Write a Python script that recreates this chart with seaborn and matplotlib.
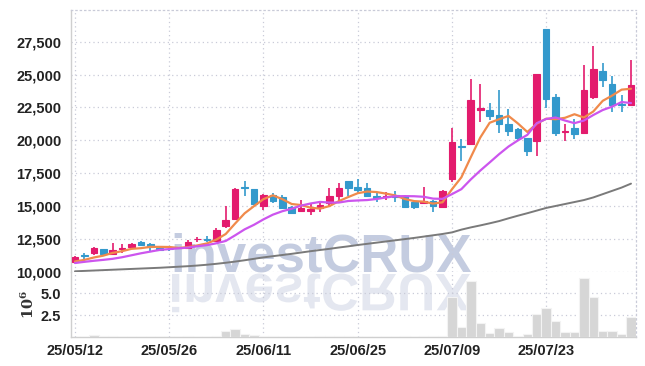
import matplotlib
matplotlib.use("Agg")
import matplotlib.pyplot as plt
import seaborn as sns
import numpy as np
import pandas as pd
from matplotlib.ticker import FuncFormatter
from matplotlib.textpath import TextPath
from matplotlib.patches import PathPatch
from matplotlib.font_manager import FontProperties
from matplotlib.transforms import Affine2D

# ---------------- data ----------------
dates = ["25/05/12", "25/05/13", "25/05/14", "25/05/15", "25/05/16", "25/05/19", "25/05/20", "25/05/21", "25/05/22", "25/05/23",
         "25/05/26", "25/05/27", "25/05/28", "25/05/29", "25/05/30", "25/06/02", "25/06/04", "25/06/05", "25/06/09", "25/06/10",
         "25/06/11", "25/06/12", "25/06/13", "25/06/16", "25/06/17", "25/06/18", "25/06/19", "25/06/20", "25/06/23", "25/06/24",
         "25/06/25", "25/06/26", "25/06/27", "25/06/30", "25/07/01", "25/07/02", "25/07/03", "25/07/04", "25/07/07", "25/07/08",
         "25/07/09", "25/07/10", "25/07/11", "25/07/14", "25/07/15", "25/07/16", "25/07/17", "25/07/18", "25/07/21", "25/07/22",
         "25/07/23", "25/07/24", "25/07/25", "25/07/28", "25/07/29", "25/07/30", "25/07/31", "25/08/01", "25/08/04", "25/08/05"]

opens = [10750, 11250, 11400, 11730, 11350, 11760, 11900, 12230, 12110, 11780,
         11760, 11800, 11800, 12450, 12470, 12360, 13450, 14020, 16420, 16300,
         15030, 15840, 15660, 14950, 14650, 14650, 14850, 15230, 15740, 16880,
         16420, 16350, 15790, 15670, 15840, 15790, 15280, 15240, 15410, 14900,
         17060, 19600, 19730, 22270, 22340, 21890, 21200, 20820, 20160, 19930,
         28440, 23280, 20610, 20950, 20570, 23280, 25240, 24250, 22780, 22650]
highs = [11200, 11400, 11900, 11750, 12190, 12110, 12190, 12360, 12150, 11900,
         11860, 11900, 12420, 12660, 12690, 13330, 15030, 16350, 16880, 16320,
         15900, 16000, 15800, 15000, 15460, 15160, 15350, 16380, 16730, 16900,
         17060, 16730, 16040, 16050, 16170, 15850, 15300, 16420, 15450, 16250,
         20950, 20110, 24680, 24250, 22860, 23790, 22400, 20900, 20200, 25010,
         28500, 23540, 21250, 21640, 25700, 27140, 25870, 24900, 23410, 26080]
lows = [10720, 11000, 11270, 11330, 11300, 11420, 11730, 11930, 11600, 11600,
        11600, 11700, 11750, 12280, 12230, 12360, 13330, 14020, 15790, 15100,
        14700, 15240, 14850, 14400, 14520, 14320, 14520, 15030, 15410, 15790,
        15920, 15660, 15280, 15470, 15280, 14900, 14800, 15160, 14570, 14820,
        16800, 18460, 19730, 21380, 21510, 20570, 20360, 20030, 18790, 18840,
        22470, 20290, 19980, 20060, 20440, 23150, 24040, 22140, 22140, 22650]
closes = [11150, 11200, 11800, 11350, 11650, 11800, 12110, 12030, 11850, 11680,
          11730, 11780, 12290, 12500, 12440, 13180, 13940, 16300, 16350, 15160,
          15840, 15410, 14850, 14470, 14820, 14800, 15100, 15790, 16350, 16380,
          16250, 15740, 15590, 15740, 15660, 14900, 14950, 15410, 14980, 16170,
          19850, 19500, 23030, 22440, 21830, 21200, 20740, 20190, 19170, 25010,
          23110, 20540, 20740, 20490, 23790, 25390, 24610, 22720, 22720, 24170]

ma5 = [10780, 10900, 11080, 11220, 11430, 11560, 11740, 11790, 11890, 11890,
       11880, 11810, 11870, 12000, 12150, 12440, 12870, 13670, 14440, 14990,
       15520, 15810, 15520, 15150, 15070, 14870, 14800, 14990, 15370, 15680,
       15970, 16100, 16060, 15940, 15800, 15530, 15370, 15330, 15180, 15280,
       16270, 17180, 18710, 20200, 21330, 21600, 21850, 21280, 20630, 21260,
       21640, 21600, 21710, 21980, 21730, 22190, 23000, 23400, 23850, 23920]
ma10 = [10660, 10750, 10830, 10900, 10980, 11100, 11250, 11400, 11530, 11660,
        11720, 11780, 11830, 11940, 12020, 12160, 12340, 12770, 13220, 13570,
        13980, 14340, 14600, 14790, 15030, 15190, 15310, 15260, 15260, 15380,
        15420, 15450, 15530, 15650, 15740, 15750, 15740, 15700, 15560, 15540,
        15900, 16280, 17020, 17690, 18310, 18940, 19520, 19990, 20410, 21300,
        21620, 21730, 21500, 21300, 21500, 21920, 22300, 22560, 22910, 22830]
ma_long = [10030, 10060, 10090, 10120, 10150, 10180, 10210, 10240, 10270, 10300,
           10340, 10380, 10420, 10470, 10530, 10600, 10680, 10770, 10870, 10980,
           11090, 11180, 11270, 11360, 11460, 11560, 11650, 11740, 11840, 11930,
           12030, 12120, 12210, 12300, 12390, 12480, 12570, 12670, 12770, 12870,
           12990, 13200, 13370, 13520, 13680, 13850, 14060, 14260, 14450, 14650,
           14850, 15000, 15150, 15300, 15450, 15650, 15900, 16150, 16400, 16700]

volumes_m = [0.08, 0.06, 0.25, 0.12, 0.10, 0.08, 0.05, 0.04, 0.03, 0.03,
             0.03, 0.03, 0.10, 0.04, 0.05, 0.15, 0.72, 0.95, 0.38, 0.25,
             0.12, 0.10, 0.08, 0.06, 0.05, 0.06, 0.10, 0.18, 0.20, 0.15,
             0.08, 0.06, 0.05, 0.05, 0.05, 0.10, 0.06, 0.12, 0.10, 0.20,
             4.55, 1.20, 6.40, 1.60, 0.45, 1.00, 0.57, 0.18, 0.34, 2.65,
             3.30, 1.80, 0.57, 0.57, 6.70, 4.60, 0.72, 0.72, 0.34, 2.35]

price_ticks = [10000, 12500, 15000, 17500, 20000, 22500, 25000, 27500]
vol_ticks = [2.5, 5.0]
tick_every = 10

# ---------------- style ----------------
sns.set_theme(style="white")
plt.rcParams['font.family'] = ['Liberation Sans Narrow', 'Liberation Sans', 'DejaVu Sans']
plt.rcParams['font.weight'] = 'bold'
plt.rcParams['mathtext.fontset'] = 'dejavuserif'

RED = '#e31b6d'
BLUE = '#3399cc'
ORANGE = '#f08a4b'
VIOLET = '#cc55ee'
GRAY = '#7a7a7a'
GRID = '#c9cbd8'
SPINE = '#cfcfcf'
TXT = '#222222'

W, H = 645, 366
fig = plt.figure(figsize=(W / 100, H / 100), dpi=100)
L, R = 71, 636
y_top, y_mid, y_bot = 10, 271.7, 337.3
ax = fig.add_axes([L / W, 1 - y_mid / H, (R - L) / W, (y_mid - y_top) / H])
axv = fig.add_axes([L / W, 1 - y_bot / H, (R - L) / W, (y_bot - y_mid) / H])
for a in (ax, axv):
    a.set_facecolor('none')

# watermark + reflection
fig.text(321 / W, 1 - 272 / H, 'investCRUX', ha='center', va='baseline',
         fontsize=38, fontweight='bold', family='Liberation Sans',
         color='#c4cce0', zorder=-5)
fp = FontProperties(family='Liberation Sans', weight='bold')
tp = TextPath((0, 0), 'investCRUX', size=38, prop=fp)
ext = tp.get_extents()
s = 100 / 72
tr = Affine2D().translate(-(ext.x0 + ext.x1) / 2, 0).scale(s, -s).translate(321, H - 274)
fig.add_artist(PathPatch(tp, transform=tr, facecolor='#e4e7f0', edgecolor='none', zorder=-5))

df = pd.DataFrame({'i': np.arange(len(closes)), 'open': opens, 'high': highs, 'low': lows,
                   'close': closes, 'ma5': ma5, 'ma10': ma10, 'ma_long': ma_long, 'vol': volumes_m})
up = df['close'] >= df['open']
cols = np.where(up, RED, BLUE)

# candles
ax.vlines(df['i'], df['low'], df['high'], colors=cols, lw=1.2, zorder=3)
ax.bar(df['i'], (df['close'] - df['open']).abs(), bottom=np.minimum(df['open'], df['close']),
       width=0.7, color=cols, edgecolor=cols, linewidth=0.8, zorder=4)

# moving averages
sns.lineplot(data=df, x='i', y='ma_long', color=GRAY, lw=1.4, ax=ax, zorder=5)
sns.lineplot(data=df, x='i', y='ma5', color=ORANGE, lw=1.6, ax=ax, zorder=6)
sns.lineplot(data=df, x='i', y='ma10', color=VIOLET, lw=1.6, ax=ax, zorder=7)

# volume
sns.barplot(data=df, x='i', y='vol', native_scale=True, width=1.0, color='#d6d6d6',
            saturation=1, edgecolor='#f3f3f3', linewidth=0.8, ax=axv, zorder=3)

xt = list(range(0, len(dates), tick_every))
for a in (ax, axv):
    a.set_xlim(-0.42, 59.53)
    a.set_xticks(xt)
    a.grid(True, linestyle=(0, (1, 2.5)), color=GRID, lw=0.9, zorder=0)
    a.set_axisbelow(True)
    a.set_xlabel('')
    a.set_ylabel('')

ax.set_ylim(10000, 29910)
ax.set_yticks(price_ticks)
ax.yaxis.set_major_formatter(FuncFormatter(lambda v, p: f'{v:,.0f}'))
ax.tick_params(axis='y', length=0, pad=7, labelsize=10.5, colors=TXT)
ax.tick_params(axis='x', length=0, labelbottom=False)

axv.set_ylim(0, 7.45)
axv.set_yticks(vol_ticks)
axv.set_yticklabels([f'{v:.1f}' for v in vol_ticks])
axv.set_xticklabels([dates[i] for i in xt])
axv.tick_params(axis='y', length=0, pad=7, labelsize=10.5, colors=TXT)
axv.tick_params(axis='x', length=0, pad=5, labelsize=10.5, colors=TXT)
axv.set_ylabel(r'$10^6$', fontsize=10.5, color='#333333', fontweight='normal', labelpad=3)

for a in (ax, axv):
    a.spines['left'].set_color(SPINE)
    a.spines['left'].set_linewidth(1.0)
    a.spines['right'].set_color(GRID)
    a.spines['right'].set_linestyle((0, (1, 2.5)))
    a.spines['right'].set_linewidth(0.9)
ax.spines['bottom'].set_visible(False)
ax.spines['top'].set_color(GRID)
ax.spines['top'].set_linestyle((0, (1, 2.5)))
ax.spines['top'].set_linewidth(0.9)
axv.spines['top'].set_visible(False)
axv.spines['bottom'].set_color(SPINE)
axv.spines['bottom'].set_linewidth(1.0)

fig.savefig('out.png', dpi=100)
